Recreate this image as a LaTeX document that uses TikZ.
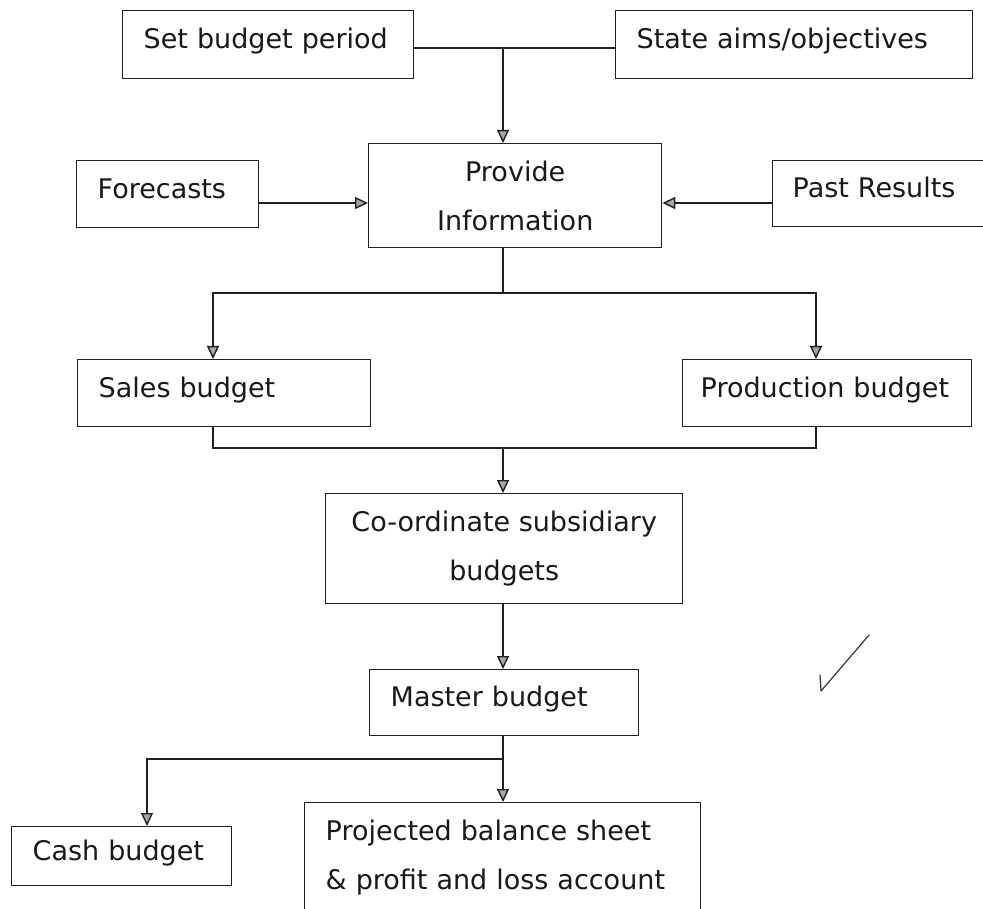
\documentclass[tikz,border=0pt]{standalone}
\usepackage{fontspec}
\setmainfont{DejaVu Sans}
\usetikzlibrary{arrows.meta}
\definecolor{linec}{gray}{0.12}
\tikzset{
  box/.style={draw=linec, line width=1.4pt, anchor=north west, inner ysep=0pt,
    font=\fontsize{27}{49}\selectfont, text=black!90},
  lbox/.style={box, align=left, inner xsep=21pt, text height=14pt, text depth=6pt},
  tbox/.style={box, align=left, inner xsep=21pt},
  cbox/.style={box, align=center, inner xsep=0pt},
  conn/.style={draw=linec, line width=1.4pt},
  arr/.style={conn, -{Triangle[width=12pt,length=13pt,fill=gray!70]}}
}
\begin{document}
\begin{tikzpicture}[x=1pt, y=-1pt]
\useasboundingbox (0,0) rectangle (983,909);
\fill[white] (0,0) rectangle (983,909);

% boxes
\node[lbox, text width=249pt, minimum height=68pt] (setp) at (122,10) {Set budget period};
\node[lbox, text width=315pt, minimum height=68pt] (aims) at (615,10) {State aims/objectives};
\node[lbox, text width=140pt, minimum height=67pt] (fore) at (76,160) {Forecasts};
\node[lbox, text width=177pt, inner xsep=20pt, minimum height=66pt] (past) at (772,160) {Past Results};
\node[cbox, minimum width=293pt, minimum height=104pt] (prov) at (368,143) {Provide\\Information};
\node[lbox, text width=251pt, minimum height=67pt] (sales) at (77,359) {Sales budget};
\node[lbox, text width=253pt, inner xsep=18pt, minimum height=67pt] (prod) at (682,359) {Production budget};
\node[cbox, minimum width=357pt, minimum height=110pt] (coord) at (325,493) {Co-ordinate subsidiary\\budgets};
\node[lbox, text width=227pt, minimum height=66pt] (master) at (369,669) {Master budget};
\node[lbox, text width=178pt, minimum height=59pt] (cash) at (11,826) {Cash budget};
\node[tbox, text width=354pt, minimum height=110pt] (proj) at (304,802) {Projected balance sheet\\\& profit and loss account};

% junction coordinates
\coordinate (t1) at (503,48);
\coordinate (a1) at (0,203);
\coordinate (t2) at (503,293);
\coordinate (sl) at (213,293);
\coordinate (sr) at (816,293);
\coordinate (bl) at (213,448);
\coordinate (br) at (816,448);
\coordinate (t3) at (503,448);
\coordinate (t4) at (503,759);
\coordinate (cl) at (147,759);

% connectors
\draw[conn] (setp.east |- t1) -- (aims.west |- t1);
\draw[arr] (t1) -- (t1 |- prov.north);
\draw[arr] (fore.east |- a1) -- (prov.west |- a1);
\draw[arr] (past.west |- a1) -- (prov.east |- a1);
\draw[conn] (prov.south -| t2) -- (t2);
\draw[arr] (t2) -- (sl) -- (sl |- sales.north);
\draw[arr] (t2) -- (sr) -- (sr |- prod.north);
\draw[conn] (bl |- sales.south) -- (bl) -- (br) -- (br |- prod.south);
\draw[arr] (t3) -- (t3 |- coord.north);
\draw[arr] (coord.south -| t3) -- (t3 |- master.north);
\draw[conn] (master.south -| t4) -- (t4);
\draw[arr] (t4) -- (cl) -- (cl |- cash.north);
\draw[arr] (t4) -- (t4 |- proj.north);

% handwritten tick
\draw[draw=black!80, line width=1.2pt, line cap=round, line join=round]
  (820,675) -- (821,691) -- (869,635);
\end{tikzpicture}
\end{document}
